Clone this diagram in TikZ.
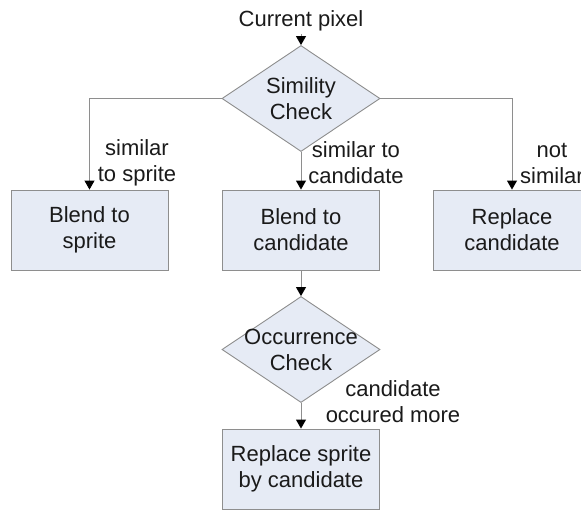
\documentclass[tikz,border=0pt]{standalone}
\usepackage{fontspec}
\setmainfont{Liberation Sans}
\usetikzlibrary{arrows.meta,shapes.geometric}
\definecolor{boxfill}{HTML}{E6EBF5}
\definecolor{boxline}{HTML}{8E8E8E}
\definecolor{txt}{HTML}{1A1A1A}
\tikzset{
  every node/.style={text=txt, font=\fontsize{22}{26}\selectfont},
  procbox/.style={draw=boxline, fill=boxfill, line width=0.9pt, minimum width=157pt, minimum height=80pt, inner sep=0pt, align=center},
  decision/.style={draw=boxline, fill=boxfill, line width=0.9pt, diamond, minimum width=158pt, minimum height=106pt, inner sep=0pt},
  lbl/.style={align=center, inner sep=0pt},
  conn/.style={draw=boxline, line width=0.9pt, -{Triangle[black,width=10pt,length=9pt]}},
}
\begin{document}
\begin{tikzpicture}[x=1pt,y=-1pt]
\clip (0,0) rectangle (581,511);
\fill[white] (0,0) rectangle (581,511);
% nodes
\node[anchor=base, inner sep=0pt] (cur) at (301,27) {Current pixel};
\coordinate (curend) at (301,34);
\node[decision] (sim) at (301,98.5) {};
\node[lbl] (simt) at (sim.center) {Simility\\Check};
\node[procbox] (bs) at (89.5,230) {Blend to\\sprite};
\node[procbox] (bc) at (301,230) {Blend to\\candidate};
\node[procbox] (rc) at (512,230) {Replace\\candidate};
\node[decision] (occ) at (301,349.5) {};
\node[lbl] (occt) at (occ.center) {Occurrence\\Check};
\node[procbox] (rs) at (301,469) {Replace sprite\\by candidate};
% connectors
\draw[conn] (curend) -- (sim.north);
\draw[conn] (sim.west) -| (bs.north);
\draw[conn] (sim.south) -- (bc.north);
\draw[conn] (sim.east) -| (rc.north);
\draw[conn] (bc.south) -- (occ.north);
\draw[conn] (occ.south) -- (rs.north);
% labels
\node[lbl] (l1) at (137,163) {similar\\to sprite};
\node[lbl] (l2) at (356,163) {similar to\\candidate};
\node[lbl] (l3) at (552,163) {not\\similar};
\node[lbl] (l4) at (393,402) {candidate\\occured more};
\end{tikzpicture}
\end{document}
